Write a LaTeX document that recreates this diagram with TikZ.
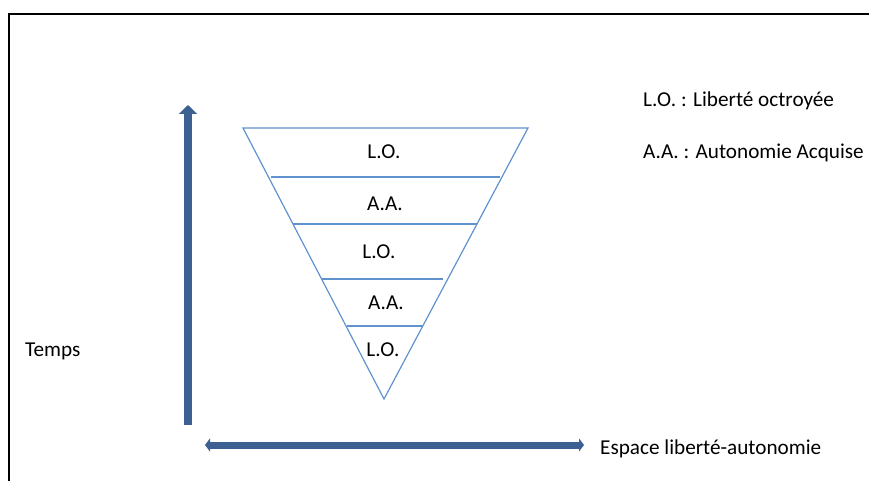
\documentclass[tikz,border=0pt]{standalone}
\usepackage{fontspec}
\setmainfont{Carlito}
\usetikzlibrary{arrows.meta}
\definecolor{axisblue}{RGB}{60,96,145}
\definecolor{lineblue}{RGB}{96,146,206}
\tikzset{
  lbl/.style={font=\fontsize{21.2}{24}\selectfont, inner sep=0pt},
  axis/.style={draw=axisblue, line width=8pt},
  layer/.style={draw=lineblue, line width=1.2pt}
}
\begin{document}
\begin{tikzpicture}[x=1pt, y=-1pt]
\useasboundingbox (0,0) rectangle (869,481);
%% Frame
\draw[line width=1.6pt] (9,481) -- (9,14) -- (869,14);
%% Nodes
\node[lbl, anchor=west](leg1) at (643,101) {L.O. : Liberté octroyée};
\node[lbl, anchor=west](leg2) at (643,153) {A.A. : Autonomie Acquise};
\node[lbl, anchor=west](temps) at (25,351) {Temps};
\node[lbl, anchor=west](espace) at (600,449) {Espace liberté-autonomie};
\node[lbl](l1) at (384,152) {L.O.};
\node[lbl](a1) at (385,204) {A.A.};
\node[lbl](l2) at (379,252) {L.O.};
\node[lbl](a2) at (386,303) {A.A.};
\node[lbl](l3) at (383,350) {L.O.};
%% Triangle
\coordinate (tl) at (243,128);
\coordinate (tr) at (528,128);
\coordinate (apex) at (384,399);
\draw[layer] (tl) -- (tr) -- (apex) -- cycle;
\draw[layer] (271,177) -- (500,177);
\draw[layer] (293,224) -- (477,224);
\draw[layer] (322,279) -- (443,279);
\draw[layer] (347,326) -- (423,326);
%% Axes
\coordinate (tbot) at (188,425);
\coordinate (ttop) at (188,105);
\coordinate (eleft) at (205,445);
\coordinate (eright) at (584,445);
\draw[axis, -{Triangle[width=18pt,length=9pt]}] (tbot) -- (ttop);
\draw[axis, line width=7pt, {Triangle[width=13pt,length=5pt]}-{Triangle[width=13pt,length=5pt]}] (eleft) -- (eright);
\end{tikzpicture}
\end{document}
